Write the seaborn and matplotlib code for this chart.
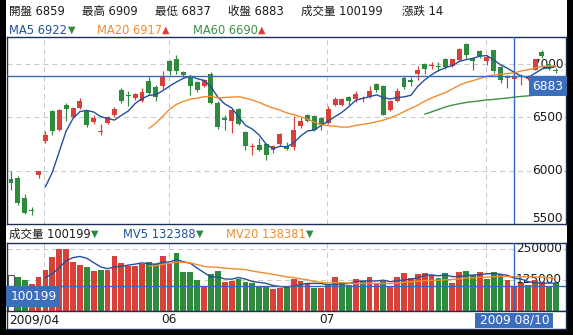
import numpy as np
import pandas as pd
import matplotlib
matplotlib.use("Agg")
import matplotlib.pyplot as plt
import matplotlib.transforms as mtransforms
from matplotlib.patches import Rectangle
import seaborn as sns

# ---- daily sessions, late April to mid August 2009 ----
opens = [5919, 5931, 5744, 5631, 5956, 6281, 6563, 6384, 6612, 6503,
         6587, 6556, 6456, 6359, 6447, 6519, 6759, 6706, 6681, 6656,
         6844, 6781, 6791, 7031, 7050, 6922, 6875, 6828, 6791, 6906,
         6634, 6491, 6463, 6581, 6363, 6222, 6244, 6250, 6197, 6250,
         6228, 6219, 6422, 6525, 6509, 6494, 6447, 6619, 6619, 6688,
         6672, 6669, 6691, 6813, 6791, 6572, 6656, 6869, 6847, 6906,
         7000, 6984, 6981, 7044, 6978, 7037, 7188, 7056, 7119, 7025,
         7128, 6969, 6881, 6859, 6875, 6862, 6944, 7113, 7000, 6945]
highs = [5994, 5947, 5781, 5656, 6000, 6369, 6572, 6581, 6634, 6594,
         6681, 6562, 6519, 6437, 6509, 6594, 6775, 6744, 6728, 6775,
         6875, 6806, 6931, 7041, 7081, 6938, 6894, 6844, 6863, 6925,
         6650, 6519, 6588, 6588, 6375, 6259, 6306, 6259, 6244, 6353,
         6269, 6509, 6500, 6531, 6519, 6500, 6603, 6688, 6681, 6697,
         6744, 6697, 6797, 6822, 6800, 6660, 6775, 6884, 6875, 6978,
         7009, 7019, 7019, 7053, 7050, 7150, 7197, 7066, 7134, 7081,
         7134, 6978, 6894, 6909, 6903, 6900, 7050, 7134, 7019, 6960]
lows = [5822, 5681, 5594, 5581, 5931, 6259, 6338, 6369, 6462, 6494,
        6581, 6406, 6437, 6337, 6437, 6500, 6634, 6603, 6666, 6644,
        6712, 6656, 6769, 6900, 6906, 6875, 6713, 6738, 6781, 6625,
        6394, 6384, 6353, 6425, 6197, 6144, 6188, 6103, 6166, 6228,
        6197, 6191, 6400, 6456, 6375, 6384, 6438, 6603, 6603, 6619,
        6644, 6641, 6681, 6738, 6519, 6556, 6644, 6769, 6791, 6853,
        6906, 6953, 6938, 6950, 6975, 7030, 7053, 6947, 7056, 6994,
        6916, 6822, 6775, 6837, 6806, 6850, 6940, 7060, 6944, 6915]
closes = [5881, 5697, 5603, 5619, 5994, 6337, 6375, 6572, 6580, 6587,
          6656, 6431, 6494, 6366, 6503, 6578, 6650, 6697, 6719, 6734,
          6728, 6688, 6875, 6938, 6931, 6894, 6791, 6759, 6853, 6634,
          6406, 6478, 6572, 6438, 6232, 6230, 6197, 6144, 6228, 6344,
          6203, 6384, 6463, 6469, 6384, 6425, 6581, 6675, 6672, 6650,
          6719, 6675, 6750, 6759, 6525, 6650, 6745, 6780, 6835, 6944,
          6950, 6991, 6972, 6969, 7045, 7140, 7080, 7031, 7075, 7070,
          6938, 6850, 6869, 6883, 6890, 6880, 7044, 7072, 6956, 6930]
volumes = [145000, 138000, 126000, 110000, 138000, 164000, 217000, 250000, 250000, 200000,
           188000, 178000, 162000, 164000, 164000, 223000, 193000, 184000, 184000, 190000,
           200000, 190000, 223000, 190000, 236000, 159000, 159000, 123000, 97000, 148000,
           162000, 116000, 119000, 130000, 116000, 113000, 99000, 99000, 87000, 94000,
           97000, 130000, 122000, 113000, 94000, 94000, 104000, 138000, 113000, 106000,
           130000, 119000, 138000, 113000, 122000, 99000, 138000, 152000, 132000, 148000,
           152000, 145000, 132000, 152000, 111680, 156000, 162000, 145000, 159000, 130500,
           158400, 149600, 123241, 100199, 113000, 106000, 126000, 117000, 99000, 113000]

month_starts = [5, 23, 46, 69]             # first session of May, Jun, Jul, Aug
month_names = ["05", "06", "07", "08"]
shown_months = ["06", "07"]                # 05 sits under the start date, 08 under the cursor date
first_date = "2009/04"
cursor = 73                                # session under the crosshair
cursor_date = "2009 08/10"
price_levels = [5500, 6000, 6500, 7000]
volume_levels = [125000, 250000]

sns.set_style("white")
plt.rcParams["font.family"] = ["DejaVu Sans", "Noto Sans CJK TC"]

UP, DOWN = "#d8413a", "#2e8a3d"
BLUE, ORANGE, GREEN = "#23509e", "#f08c2e", "#3f8f45"
NAVY = "#1b2f55"
CROSS = "#3a69b6"
TAG = "#3c6ebe"
GRID = "#c9c9c9"
INK = "#1a1a1a"
FS_HEAD, FS_AXIS = 8.3, 8.7

df = pd.DataFrame({"open": opens, "high": highs, "low": lows,
                   "close": closes, "volume": volumes})
df["i"] = np.arange(len(df))


def moving(series, n):
    # an average is only shown once n earlier sessions are on the chart
    m = series.rolling(n).mean()
    m.iloc[:n] = np.nan
    return m


df["ma5"] = moving(df["close"], 5)
df["ma20"] = moving(df["close"], 20)
df["ma60"] = moving(df["close"], 60)
df["mv5"] = moving(df["volume"], 5)
df["mv20"] = moving(df["volume"], 20)

candle_col = np.where(df["close"] >= df["open"], UP, DOWN)
prev_close = df["close"].shift(1)
vol_col = np.where(df["close"] >= prev_close, UP, DOWN)

# ---- figure frame ----
W, H = 573, 335
fig = plt.figure(figsize=(W / 100, H / 100), dpi=100, facecolor="black")


def frac(l, t, r, b):
    return [l / W, 1 - b / H, (r - l) / W, (b - t) / H]


fig.patches.append(Rectangle((6 / W, 1 - 329 / H), 560.5 / W, 329 / H,
                             transform=fig.transFigure, facecolor="white",
                             edgecolor="none", zorder=-1))

LEFT, RIGHT = 7, 565.5
P_TOP, P_BOT = 36.5, 224
V_TOP, V_BOT = 242.7, 310.7
D_BOT = 328.5
ax_p = fig.add_axes(frac(LEFT, P_TOP, RIGHT, P_BOT))
ax_v = fig.add_axes(frac(LEFT, V_TOP, RIGHT, V_BOT))
ax_d = fig.add_axes(frac(LEFT, V_BOT, RIGHT, D_BOT))

XLIM = (-0.58, 80.42)
P_LIM = (5500, 7258)
V_LIM = (0, 276900)

for ax in (ax_p, ax_v, ax_d):
    ax.set_facecolor("white")
    ax.set_xlim(*XLIM)
    ax.set_xticks([])
    ax.set_yticks([])
    ax.set_xlabel("")
    ax.set_ylabel("")
    for s in ax.spines.values():
        s.set_color(NAVY)
        s.set_linewidth(1.0)
        s.set_visible(True)
ax_p.set_ylim(*P_LIM)
ax_v.set_ylim(*V_LIM)
ax_d.set_ylim(0, 1)

dash = (0, (4.8, 3.8))
for m in month_starts:
    for ax in (ax_p, ax_v):
        ax.axvline(m - 0.15, color=GRID, lw=0.75, ls=dash, zorder=1)
for lv in price_levels[1:]:
    ax_p.axhline(lv, color=GRID, lw=0.75, ls=dash, zorder=1)
for lv in volume_levels:
    ax_v.axhline(lv, color=GRID, lw=0.75, ls=dash, zorder=1)

# ---- price axis labels, painted under the candles ----
lbl_box = dict(boxstyle="square,pad=0.1", fc="white", ec="none")
for lv in price_levels:
    dy = 3.6 if lv == P_LIM[0] else 0
    ax_p.annotate(f"{lv}", xy=(1, lv), xycoords=("axes fraction", "data"),
                  xytext=(-1.8, dy), textcoords="offset points",
                  ha="right", va="center", fontsize=FS_AXIS, color=INK,
                  bbox=lbl_box, zorder=2)
for lv in volume_levels:
    ax_v.annotate(f"{lv}", xy=(1, lv), xycoords=("axes fraction", "data"),
                  xytext=(-2.5, 0.6), textcoords="offset points",
                  ha="right", va="center", fontsize=FS_AXIS, color=INK,
                  bbox=lbl_box, zorder=2)

# ---- candles ----
body_lo = np.minimum(df["open"], df["close"])
body_h = np.maximum(np.abs(df["close"] - df["open"]), 10)
ax_p.vlines(df["i"], df["low"], df["high"], colors=candle_col, lw=0.85, zorder=3)
ax_p.bar(df["i"], body_h, bottom=body_lo, width=0.72, color=candle_col,
         linewidth=0, zorder=4)

sns.lineplot(data=df, x="i", y="ma5", ax=ax_p, color=BLUE, lw=1.0,
             estimator=None, zorder=5)
sns.lineplot(data=df, x="i", y="ma20", ax=ax_p, color=ORANGE, lw=1.0,
             estimator=None, zorder=5)
sns.lineplot(data=df, x="i", y="ma60", ax=ax_p, color=GREEN, lw=1.0,
             estimator=None, zorder=5)

# ---- volume ----
first = df["i"] == 0
ax_v.bar(df["i"][~first], df["volume"][~first], width=0.84,
         color=vol_col[~first.values], linewidth=0, zorder=3)
ax_v.bar(df["i"][first], df["volume"][first], width=0.84, color="white",
         edgecolor="#555555", linewidth=0.8, zorder=3)
sns.lineplot(data=df, x="i", y="mv5", ax=ax_v, color=BLUE, lw=1.0,
             estimator=None, zorder=5)
sns.lineplot(data=df, x="i", y="mv20", ax=ax_v, color=ORANGE, lw=1.0,
             estimator=None, zorder=5)

for ax in (ax_p, ax_v, ax_d):
    ax.set_xlabel("")
    ax.set_ylabel("")
    ax.set_xlim(*XLIM)

# ---- crosshair ----
k = cursor
ax_p.axvline(k, color=CROSS, lw=1.0, zorder=6)
ax_p.axhline(df["close"][k], color=CROSS, lw=1.0, zorder=6)
ax_v.axvline(k, color=CROSS, lw=1.0, zorder=6)
ax_v.axhline(df["volume"][k], color=CROSS, lw=1.0, zorder=6)

upp = (P_LIM[1] - P_LIM[0]) / (P_BOT - P_TOP)
vpp = (V_LIM[1] - V_LIM[0]) / (V_BOT - V_TOP)
axw = RIGHT - LEFT

tp = mtransforms.blended_transform_factory(ax_p.transAxes, ax_p.transData)
x0 = (529 - LEFT) / axw
ax_p.add_patch(Rectangle((x0, df["close"][k] - 20 * upp), 1.002 - x0, 20 * upp,
                         transform=tp, fc=TAG, ec="none", zorder=8, clip_on=False))
ax_p.text((x0 + 1.002) / 2, df["close"][k] - 10 * upp, f"{df['close'][k]}",
          transform=tp, ha="center", va="center", color="white",
          fontsize=FS_AXIS, zorder=9)

tv = mtransforms.blended_transform_factory(ax_v.transAxes, ax_v.transData)
x1 = (60 - LEFT) / axw
ax_v.add_patch(Rectangle((-0.001, df["volume"][k] - 21 * vpp), x1, 21 * vpp,
                         transform=tv, fc=TAG, ec="none", zorder=8, clip_on=False))
ax_v.text(x1 / 2, df["volume"][k] - 10.5 * vpp, f"{df['volume'][k]}",
          transform=tv, ha="center", va="center", color="white",
          fontsize=FS_AXIS, zorder=9)

# ---- date strip ----
td = mtransforms.blended_transform_factory(ax_d.transData, ax_d.transAxes)
ax_d.text((9.3 - LEFT) / axw, 0.5, first_date, transform=ax_d.transAxes,
          ha="left", va="center", fontsize=FS_AXIS, color=INK)
for m, name in zip(month_starts, month_names):
    if name in shown_months:
        ax_d.text(m - 0.15, 0.5, name, transform=td, ha="center", va="center",
                  fontsize=FS_AXIS, color=INK)
half = 39 / 6.895
ax_d.add_patch(Rectangle((k - half, 0.02), 2 * half, 0.85, transform=td,
                         fc=TAG, ec="none", zorder=8))
ax_d.text(k, 0.45, cursor_date, transform=td, ha="center", va="center",
          color="white", fontsize=FS_AXIS, zorder=9)

# ---- header readouts ----
renderer = fig.canvas.get_renderer()


def head(x, y, text, color, arrow=None):
    t = fig.text(x / W, 1 - y / H, text, color=color, ha="left", va="center",
                 fontsize=FS_HEAD)
    if arrow is not None:
        bb = t.get_window_extent(renderer)
        fig.text((bb.x1 + 0.5) / W, 1 - y / H, arrow,
                 color=UP if arrow == "▲" else DOWN,
                 ha="left", va="center", fontsize=FS_HEAD * 0.85)


def trend(col):
    return "▲" if df[col][k] > df[col][k - 1] else "▼"


change = df["close"][k] - df["close"][k - 1]
row1 = [("開盤", df["open"][k], 9.3), ("最高", df["high"][k], 82),
        ("最低", df["low"][k], 155), ("收盤", df["close"][k], 228),
        ("成交量", df["volume"][k], 300.7), ("漲跌", change, 401.7)]
for name, val, x in row1:
    head(x, 11, f"{name} {val}", INK)

head(9.3, 30, f"MA5 {df['ma5'][k]:.0f}", BLUE, trend("ma5"))
head(96.7, 30, f"MA20 {df['ma20'][k]:.0f}", ORANGE, trend("ma20"))
head(193, 30, f"MA60 {df['ma60'][k]:.0f}", GREEN, trend("ma60"))

head(9.3, 234, f"成交量 {df['volume'][k]}", INK, trend("volume"))
head(122.7, 234, f"MV5 {df['mv5'][k]:.0f}", BLUE, trend("mv5"))
head(226, 234, f"MV20 {df['mv20'][k]:.0f}", ORANGE, trend("mv20"))

fig.savefig("out.png", dpi=100, facecolor=fig.get_facecolor())
